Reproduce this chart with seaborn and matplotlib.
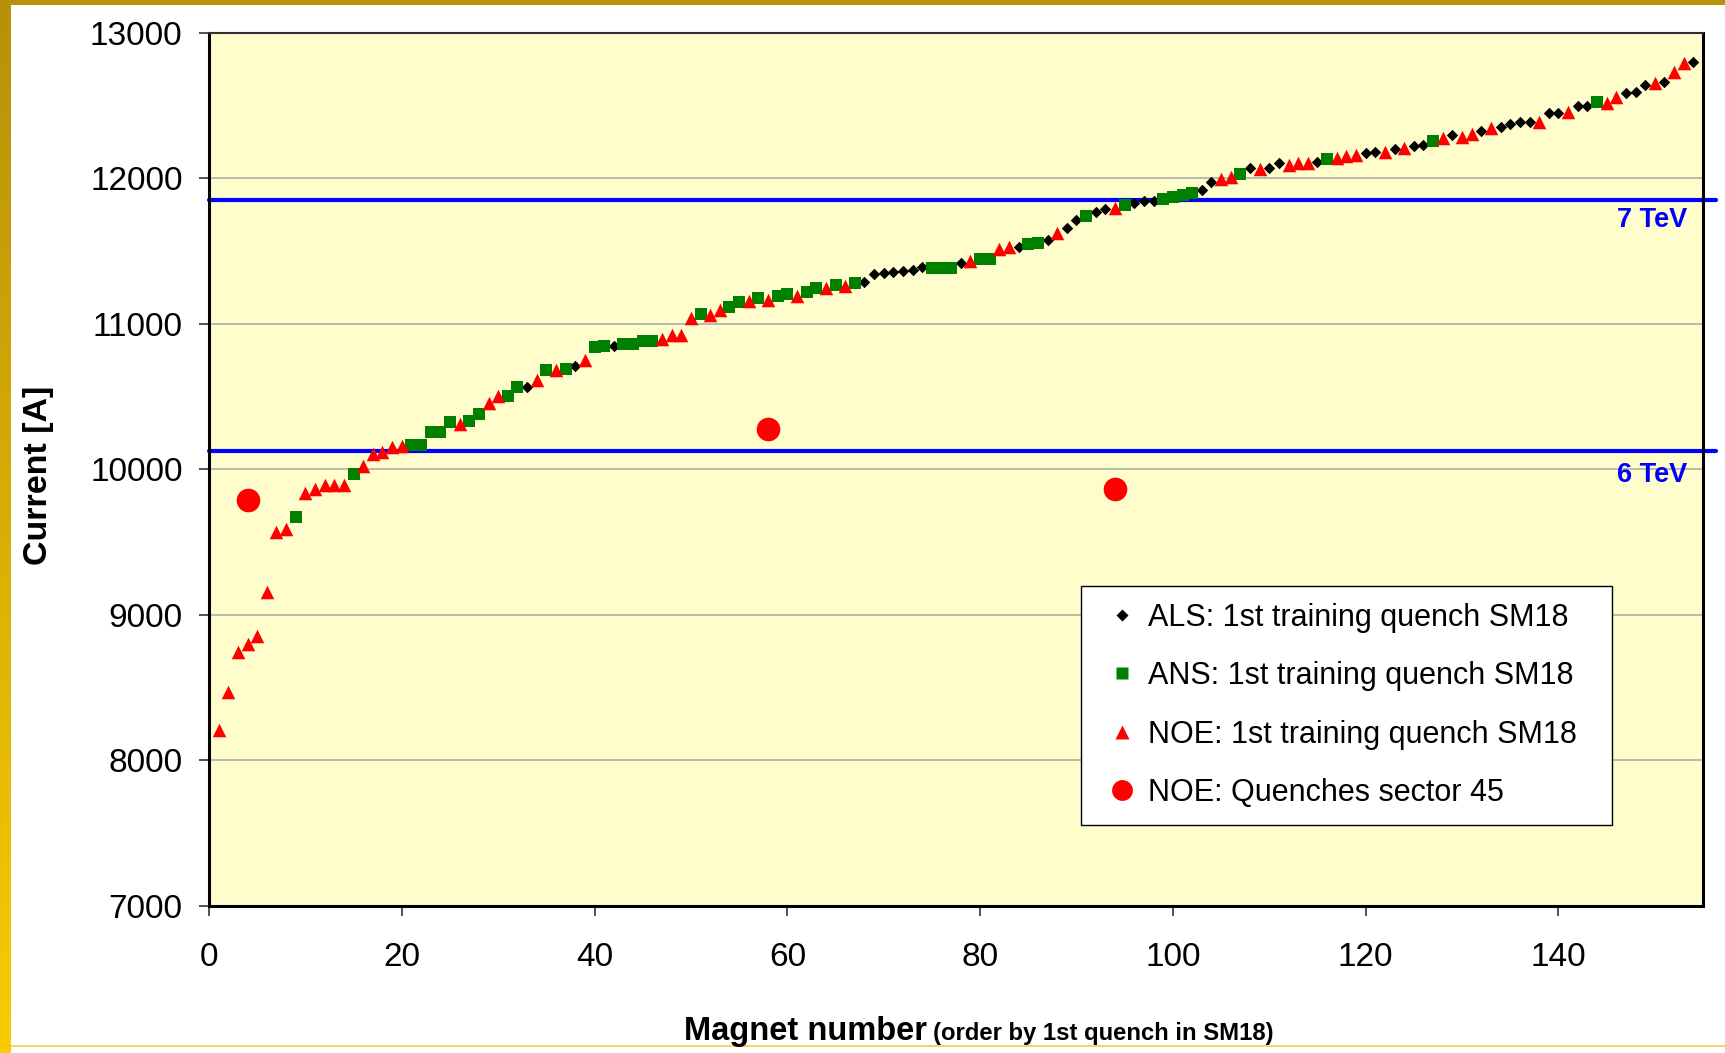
import numpy as np
import pandas as pd
import matplotlib
matplotlib.use("Agg")
import matplotlib.pyplot as plt
from matplotlib.lines import Line2D
from matplotlib.colors import LinearSegmentedColormap
import seaborn as sns

# ---- data ----
# series code per magnet (order 1..154): D = ALS, S = ANS, N = NOE
magnet_type = list(
    "NNNNNNNNSNNNNNSNNNNNSSSSSNSSNNSSDNSNSDNSSDSSSSNNNNSNNSSNSNSSNSSNSNSD"
    "DDDDDDSSSDNSSNNDSSDNDDSDDNSDDDSSSSDDNNSDNDDNNNDSNNNDDNDNDDSNDNNDNDDDD"
    "NDDNDDSNNDDDNDNND"
)
current_sm18 = [
    8213, 8472, 8744, 8801, 8858, 9158, 9568, 9593, 9671, 9839,
    9866, 9896, 9896, 9896, 9969, 10021, 10108, 10120, 10152, 10163,
    10170, 10170, 10255, 10255, 10324, 10310, 10335, 10381, 10457, 10502,
    10507, 10567, 10564, 10617, 10681, 10686, 10692, 10708, 10754, 10839,
    10848, 10850, 10862, 10864, 10880, 10880, 10896, 10926, 10926, 11040,
    11068, 11063, 11093, 11120, 11148, 11155, 11178, 11166, 11194, 11205,
    11194, 11223, 11249, 11247, 11265, 11262, 11281, 11288, 11343, 11350,
    11357, 11361, 11372, 11395, 11388, 11388, 11388, 11418, 11430, 11446,
    11446, 11515, 11528, 11532, 11550, 11556, 11574, 11624, 11659, 11716,
    11743, 11773, 11789, 11796, 11819, 11835, 11842, 11842, 11858, 11872,
    11887, 11903, 11922, 11973, 11995, 12009, 12032, 12075, 12064, 12075,
    12109, 12093, 12105, 12105, 12116, 12133, 12139, 12155, 12162, 12174,
    12185, 12185, 12201, 12208, 12220, 12231, 12260, 12277, 12299, 12288,
    12306, 12329, 12345, 12357, 12373, 12387, 12387, 12391, 12448, 12448,
    12460, 12499, 12499, 12528, 12517, 12558, 12586, 12597, 12643, 12659,
    12666, 12732, 12792, 12799,
]
sector45_magnet = [4, 58, 94]
sector45_current = [9793, 10280, 9865]

energy_labels = ["7 TeV", "6 TeV"]
energy_currents = [11850, 10130]

series_names = {
    "D": "ALS: 1st training quench SM18",
    "S": "ANS: 1st training quench SM18",
    "N": "NOE: 1st training quench SM18",
}
sector_name = "NOE: Quenches sector 45"

x_ticks = [0, 20, 40, 60, 80, 100, 120, 140]
y_ticks = [7000, 8000, 9000, 10000, 11000, 12000, 13000]

# ---- build frame ----
n = min(len(magnet_type), len(current_sm18))
df = pd.DataFrame({
    "magnet": np.arange(1, n + 1),
    "current": current_sm18[:n],
    "series": [series_names[c] for c in magnet_type[:n]],
})
df45 = pd.DataFrame({"magnet": sector45_magnet, "current": sector45_current})

sns.set_style("white")
plt.rcParams["font.family"] = ["Liberation Sans", "DejaVu Sans"]
plt.rcParams["text.color"] = "black"
plt.rcParams["xtick.color"] = "black"
plt.rcParams["ytick.color"] = "black"

W, H = 1725, 1053
fig = plt.figure(figsize=(W / 100, H / 100), dpi=100)
fig.patch.set_facecolor("white")

L, R, T, B = 209, 1703, 33, 906
ax = fig.add_axes([L / W, 1 - B / H, (R - L) / W, (B - T) / H])
ax.set_facecolor("#FFFDCC")

# grid
ax.set_axisbelow(True)
ax.yaxis.grid(True, color="#A8A8A8", lw=1.1)
ax.xaxis.grid(False)

# reference energy lines
for lab, cur in zip(energy_labels, energy_currents):
    ax.plot([0, 1.009], [cur, cur], transform=ax.get_yaxis_transform(),
            color="#0000FF", lw=3.0, clip_on=False, zorder=2)

styles = {
    series_names["D"]: dict(marker="D", color="black", s=34),
    series_names["S"]: dict(marker="s", color="#008000", s=80),
    series_names["N"]: dict(marker="^", color="#FF0000", s=95),
}
for name in [series_names["D"], series_names["S"], series_names["N"]]:
    sub = df[df["series"] == name]
    st = styles[name]
    sns.scatterplot(data=sub, x="magnet", y="current", ax=ax, marker=st["marker"],
                    color=st["color"], s=st["s"], linewidth=0, zorder=3, legend=False)
sns.scatterplot(data=df45, x="magnet", y="current", ax=ax, marker="o",
                color="#FF0000", s=290, linewidth=0, zorder=4, legend=False)

ax.set_xlim(0, 155)
ax.set_ylim(7000, 13000)
ax.set_xticks(x_ticks)
ax.set_yticks(y_ticks)
ax.set_xlabel("")
ax.set_ylabel("")
ax.tick_params(axis="both", which="major", labelsize=24, direction="out",
               length=7, width=1.2, color="#333333", labelcolor="black",
               left=True, bottom=True)
ax.tick_params(axis="y", pad=12)
ax.tick_params(axis="x", pad=19)

for side in ["left", "right", "bottom"]:
    ax.spines[side].set_color("black")
    ax.spines[side].set_linewidth(2.2)
ax.spines["top"].set_color("#303030")
ax.spines["top"].set_linewidth(1.5)

# energy labels
ax.text(0.9893, 11716, energy_labels[0], transform=ax.get_yaxis_transform(),
        ha="right", va="center", color="#0000FF", fontsize=19.5, fontweight="bold")
ax.text(0.9893, 9964, energy_labels[1], transform=ax.get_yaxis_transform(),
        ha="right", va="center", color="#0000FF", fontsize=19.5, fontweight="bold")

# legend
handles = [
    Line2D([], [], ls="none", marker="D", color="black", ms=6.5, mec="none"),
    Line2D([], [], ls="none", marker="s", color="#008000", ms=9, mec="none"),
    Line2D([], [], ls="none", marker="^", color="#FF0000", ms=10, mec="none"),
    Line2D([], [], ls="none", marker="o", color="#FF0000", ms=15, mec="none"),
]
labels = [series_names["D"], series_names["S"], series_names["N"], sector_name]
lx0, lx1, ly1 = 0.5837, 0.939, 0.3666
leg = ax.legend(handles, labels, loc="upper left",
                bbox_to_anchor=(lx0, ly1 - 0.3, lx1 - lx0, 0.3), mode="expand",
                borderaxespad=0, fontsize=22, frameon=True, fancybox=False,
                edgecolor="black", framealpha=1, facecolor="white",
                handlelength=1.6, handletextpad=0.05, labelspacing=0.93,
                borderpad=0.55)
leg.get_frame().set_linewidth(1.0)

# axis titles
fig.text(38.5 / W, 1 - 475 / H, "Current [A]", rotation=90, ha="center", va="center",
         fontsize=24.5, fontweight="bold")
t1 = fig.text(684 / W, 1 - 1040 / H, "Magnet number", ha="left", va="baseline",
              fontsize=23.5, fontweight="bold")
fig.canvas.draw()
bb = t1.get_window_extent(fig.canvas.get_renderer())
fig.text(bb.x1 / W + 6 / W, 1 - 1040 / H, "(order by 1st quench in SM18)", ha="left",
         va="baseline", fontsize=17.2, fontweight="bold")

# slide frame decorations
grad_ax = fig.add_axes([0, 0, 11 / W, 1])
grad = np.linspace(0, 1, 256).reshape(-1, 1)
cmap = LinearSegmentedColormap.from_list("gold", ["#B8900A", "#F8CC00"])
grad_ax.imshow(grad, aspect="auto", cmap=cmap, extent=[0, 1, 0, 1], origin="upper")
grad_ax.axis("off")
fig.add_artist(plt.Rectangle((0, 1 - 5 / H), 1, 5 / H, transform=fig.transFigure,
                             color="#B8900A", lw=0))
fig.add_artist(plt.Rectangle((11 / W, 1 - 1047 / H), 1, 2 / H, transform=fig.transFigure,
                             color="#F2D66A", lw=0))

fig.savefig("out.png", dpi=100)
